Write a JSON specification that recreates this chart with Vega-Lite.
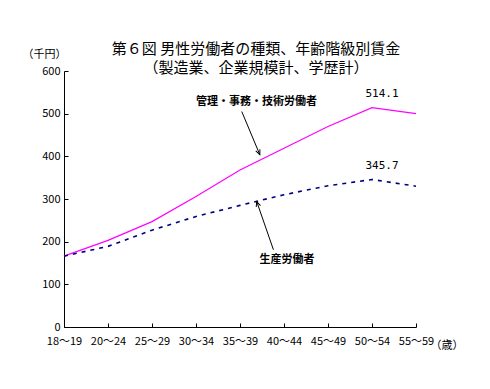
{
  "$schema": "https://vega.github.io/schema/vega-lite/v6.json",
  "width": 352,
  "height": 256,
  "autosize": {"type": "none"},
  "padding": {"left": 64, "top": 71, "right": 74, "bottom": 62},
  "background": "white",
  "title": {
    "text": "第６図 男性労働者の種類、年齢階級別賃金",
    "subtitle": "（製造業、企業規模計、学歴計）",
    "anchor": "middle",
    "frame": "group",
    "dx": 16,
    "offset": -28,
    "font": "Noto Sans CJK JP",
    "fontSize": 15,
    "fontWeight": "normal",
    "color": "black",
    "subtitleFont": "Noto Sans CJK JP",
    "subtitleFontSize": 15,
    "subtitleColor": "black",
    "subtitlePadding": 4
  },
  "config": {
    "view": {"stroke": null},
    "font": "Noto Sans CJK JP",
    "axis": {
      "grid": false,
      "domainColor": "black",
      "tickColor": "black",
      "labelColor": "black",
      "titleColor": "black",
      "labelFont": "Noto Sans CJK JP",
      "titleFont": "Noto Sans CJK JP",
      "labelFontSize": 11,
      "titleFontSize": 11,
      "titleFontWeight": "normal",
      "tickSize": -4
    }
  },
  "layer": [
    {
      "data": {
        "values": [
          {"age": "18～19", "series": "管理・事務・技術労働者", "value": 166},
          {"age": "20～24", "series": "管理・事務・技術労働者", "value": 203},
          {"age": "25～29", "series": "管理・事務・技術労働者", "value": 247},
          {"age": "30～34", "series": "管理・事務・技術労働者", "value": 306},
          {"age": "35～39", "series": "管理・事務・技術労働者", "value": 368},
          {"age": "40～44", "series": "管理・事務・技術労働者", "value": 419},
          {"age": "45～49", "series": "管理・事務・技術労働者", "value": 470},
          {"age": "50～54", "series": "管理・事務・技術労働者", "value": 514.1},
          {"age": "55～59", "series": "管理・事務・技術労働者", "value": 500},
          {"age": "18～19", "series": "生産労働者", "value": 166},
          {"age": "20～24", "series": "生産労働者", "value": 189},
          {"age": "25～29", "series": "生産労働者", "value": 227},
          {"age": "30～34", "series": "生産労働者", "value": 259},
          {"age": "35～39", "series": "生産労働者", "value": 285},
          {"age": "40～44", "series": "生産労働者", "value": 310},
          {"age": "45～49", "series": "生産労働者", "value": 331},
          {"age": "50～54", "series": "生産労働者", "value": 345.7},
          {"age": "55～59", "series": "生産労働者", "value": 330}
        ]
      },
      "encoding": {
        "x": {
          "field": "age",
          "type": "ordinal",
          "sort": null,
          "scale": {"type": "point", "padding": 0},
          "axis": {
            "title": "（歳）",
            "labelAngle": 0,
            "labelPadding": 12,
            "titleAngle": 0,
            "titleX": 366,
            "titleY": 18,
            "titleAlign": "left",
            "titleBaseline": "middle"
          }
        },
        "y": {
          "field": "value",
          "type": "quantitative",
          "scale": {"domain": [0, 600], "nice": false},
          "axis": {
            "title": "（千円）",
            "values": [0, 100, 200, 300, 400, 500, 600],
            "labelPadding": 8,
            "titleAngle": 0,
            "titleAlign": "center",
            "titleBaseline": "bottom",
            "titleX": -20,
            "titleY": -12
          }
        }
      },
      "layer": [
        {
          "transform": [{"filter": "datum.series === '管理・事務・技術労働者'"}],
          "mark": {"type": "line", "color": "#FF00FF", "strokeWidth": 1.2}
        },
        {
          "transform": [{"filter": "datum.series === '生産労働者'"}],
          "mark": {"type": "line", "color": "#000080", "strokeWidth": 1.6, "strokeDash": [4, 5]}
        },
        {
          "transform": [{"filter": "datum.age === '50～54'"}],
          "mark": {"type": "text", "dx": 10, "dy": -14, "fontSize": 11, "color": "black", "font": "DejaVu Sans Mono"},
          "encoding": {"text": {"field": "value", "type": "quantitative", "format": ".1f"}}
        }
      ]
    },
    {
      "data": {
        "values": [
          {"kind": "arrow", "xi": 4.04, "yv": 505, "xi2": 4.45, "yv2": 404, "angle": 157},
          {"kind": "arrow", "xi": 4.76, "yv": 181, "xi2": 4.38, "yv2": 294, "angle": 341}
        ]
      },
      "layer": [
        {
          "mark": {"type": "rule", "color": "black", "strokeWidth": 1},
          "encoding": {
            "x": {"field": "xi", "type": "quantitative", "scale": {"domain": [0, 8], "nice": false, "zero": false}, "axis": null},
            "y": {"field": "yv", "type": "quantitative"},
            "x2": {"field": "xi2"},
            "y2": {"field": "yv2"}
          }
        },
        {
          "mark": {"type": "point", "shape": "M -0.45 1 L 0 0 L 0.45 1", "filled": false, "color": "black", "strokeWidth": 1, "size": 100, "opacity": 1},
          "encoding": {
            "x": {"field": "xi2", "type": "quantitative", "scale": {"domain": [0, 8], "nice": false, "zero": false}, "axis": null},
            "y": {"field": "yv2", "type": "quantitative"},
            "angle": {"field": "angle", "type": "quantitative", "scale": null}
          }
        }
      ]
    },
    {
      "data": {
        "values": [
          {"xi": 4.375, "yv": 528, "label": "管理・事務・技術労働者"},
          {"xi": 5.07, "yv": 158, "label": "生産労働者"}
        ]
      },
      "mark": {"type": "text", "fontSize": 11, "fontWeight": "bold", "color": "black", "font": "Noto Sans CJK JP"},
      "encoding": {
        "x": {"field": "xi", "type": "quantitative", "scale": {"domain": [0, 8], "nice": false, "zero": false}, "axis": null},
        "y": {"field": "yv", "type": "quantitative"},
        "text": {"field": "label"}
      }
    }
  ],
  "resolve": {"scale": {"x": "independent"}, "axis": {"x": "independent"}}
}
